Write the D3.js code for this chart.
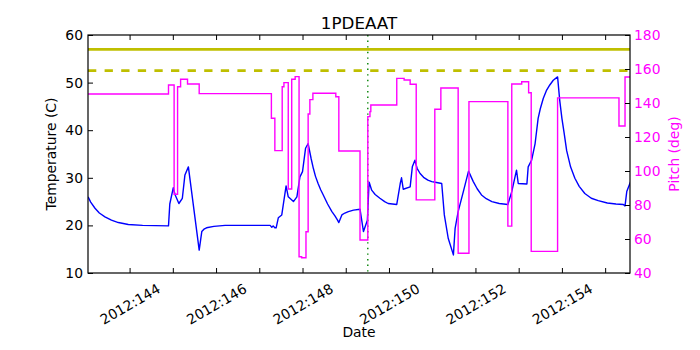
<!DOCTYPE html>
<html>
<head>
<meta charset="utf-8">
<script src="https://cdn.jsdelivr.net/npm/d3@7"></script>
<style>
  html, body { margin: 0; padding: 0; background: #ffffff; }
  svg { display: block; font-family: "DejaVu Sans", sans-serif; }
</style>
</head>
<body>
<div id="chart"></div>
<script>
// ---- data ----
const chartTitle = "1PDEAAT";
const xLabel = "Date";
const yLeftLabel = "Temperature (C)";
const yRightLabel = "Pitch (deg)";

// temperature (C) vs day-of-year 2012
const tempDays = [
  143.04,143.10,143.20,143.30,143.43,143.58,143.74,143.97,144.30,144.90,
  144.93,145.01,145.05,145.14,145.22,145.28,145.36,145.61,145.67,145.72,145.78,145.95,146.21,
  147.25,147.29,147.32,147.36,147.39,147.44,147.52,147.62,147.67,147.79,147.87,147.94,148.00,148.07,
  148.13,148.20,148.25,148.30,148.36,148.42,148.48,148.58,148.68,148.75,148.81,148.84,148.91,148.98,149.06,149.18,149.33,
  149.41,149.50,149.54,149.60,149.68,149.79,149.90,149.98,150.08,150.18,
  150.26,150.29,150.33,150.49,150.54,150.60,150.65,150.72,150.80,150.90,150.99,151.10,151.22,
  151.28,151.37,151.49,151.53,151.60,151.72,151.84,151.90,151.95,152.04,152.14,152.25,152.38,152.55,152.75,
  152.84,152.95,152.99,153.19,153.22,153.30,153.38,153.45,153.50,153.57,153.64,153.72,153.80,153.90,
  153.95,154.00,154.05,154.11,154.20,154.30,154.40,154.53,154.68,154.84,155.05,155.25,155.42,155.46,155.50,155.62];
const tempValues = [
  26.0,24.9,23.6,22.6,21.8,21.1,20.6,20.2,20.0,19.9,
  24.5,27.9,26.5,24.6,25.7,30.6,32.3,14.8,18.7,19.2,19.5,19.8,20.0,
  20.0,19.6,19.9,19.5,19.5,21.6,22.2,28.3,26.0,25.0,26.0,30.2,31.3,36.2,
  37.2,34.0,32.0,30.3,28.8,27.5,26.4,24.5,22.9,22.0,21.1,20.6,22.2,22.6,22.9,23.2,23.4,
  18.7,21.1,29.1,27.4,26.5,25.7,25.0,24.6,24.5,24.4,
  28.8,30.0,27.6,28.1,32.3,33.7,32.0,30.9,30.1,29.5,29.2,29.0,28.8,
  22.2,17.3,13.8,19.4,22.9,27.1,31.4,30.2,29.2,27.7,26.4,25.6,25.0,24.6,24.4,
  27.1,31.6,28.8,28.7,32.3,33.7,37.2,42.5,44.5,46.7,48.3,49.5,50.5,51.2,
  46.2,42.5,39.5,35.7,32.3,29.9,28.2,26.7,25.7,25.2,24.7,24.5,24.4,24.1,27.1,29.9];

// pitch (deg), step changes at these days
const pitchDays = [143.04,144.90,145.03,145.11,145.18,145.34,145.61,147.28,147.36,147.53,147.57,147.67,147.75,147.83,147.92,147.98,148.08,148.13,148.17,148.24,148.77,148.84,149.33,149.51,149.56,149.58,150.18,150.35,150.49,150.63,151.06,151.20,151.60,151.85,152.75,152.84,153.07,153.23,153.29,153.90,155.32,155.46,155.62];
const pitchValues = [145.3,150.6,86.3,149.6,154.0,151.2,145.5,131.0,112.0,149.6,152.0,89.4,154.0,155.5,49.6,49.0,64.3,133.5,142.0,145.7,143.7,111.8,59.4,132.0,134.9,138.8,154.5,153.5,151.0,83.0,136.3,148.8,51.6,140.8,67.6,151.2,152.5,146.0,52.7,143.0,126.5,155.3,155.3];

const limitSolid = 57.0;   // temperature limit (solid)
const limitDashed = 52.5;  // temperature limit (dashed)
const markerDay = 149.51;  // vertical dotted marker

const xDomain = [143.038, 155.575];
const xTickDays = [144,145,146,147,148,149,150,151,152,153,154,155];
const xTickLabels = {144:"2012:144",146:"2012:146",148:"2012:148",150:"2012:150",152:"2012:152",154:"2012:154"};
const yLeftDomain = [10, 60];
const yLeftTicks = [10,20,30,40,50,60];
const yRightDomain = [40, 180];
const yRightTicks = [40,60,80,100,120,140,160,180];

// ---- layout ----
const W = 700, H = 350;
const m = {left: 88, right: 70, top: 35, bottom: 77};
const iw = W - m.left - m.right, ih = H - m.top - m.bottom;

const svg = d3.select("#chart").append("svg").attr("width", W).attr("height", H);
svg.append("rect").attr("width", W).attr("height", H).attr("fill", "#fff");

const g = svg.append("g").attr("transform", `translate(${m.left},${m.top})`);

const x = d3.scaleLinear().domain(xDomain).range([0, iw]);
const yL = d3.scaleLinear().domain(yLeftDomain).range([ih, 0]);
const yR = d3.scaleLinear().domain(yRightDomain).range([ih, 0]);

g.append("clipPath").attr("id", "clip").append("rect").attr("width", iw).attr("height", ih);
const plot = g.append("g").attr("clip-path", "url(#clip)");

const yellow = "#bfbf00";
// limit lines
plot.append("line").attr("x1", 0).attr("x2", iw).attr("y1", yL(limitSolid)).attr("y2", yL(limitSolid))
  .attr("stroke", yellow).attr("stroke-width", 2.8);
plot.append("line").attr("x1", 0).attr("x2", iw).attr("y1", yL(limitDashed)).attr("y2", yL(limitDashed))
  .attr("stroke", yellow).attr("stroke-width", 2.8).attr("stroke-dasharray", "8.3,8.3");

// temperature line
const tempData = tempDays.map((d, i) => [d, tempValues[i]]);
plot.append("path").datum(tempData)
  .attr("fill", "none").attr("stroke", "#0000ff").attr("stroke-width", 1.4)
  .attr("stroke-linejoin", "round")
  .attr("d", d3.line().x(d => x(d[0])).y(d => yL(d[1])));

// marker
plot.append("line").attr("x1", x(markerDay)).attr("x2", x(markerDay)).attr("y1", 0).attr("y2", ih)
  .attr("stroke", "#008000").attr("stroke-width", 1.4).attr("stroke-dasharray", "1.4,4.2");

// pitch line
const pitchData = pitchDays.map((d, i) => [d, pitchValues[i]]);
plot.append("path").datum(pitchData)
  .attr("fill", "none").attr("stroke", "#ff00ff").attr("stroke-width", 1.4)
  .attr("d", d3.line().x(d => x(d[0])).y(d => yR(d[1])).curve(d3.curveStepAfter));

const fs = 13.9;
// x axis bottom
const xAxis = g.append("g").attr("transform", `translate(0,${ih})`)
  .call(d3.axisBottom(x).tickValues(xTickDays).tickSizeInner(-5).tickSizeOuter(0)
    .tickFormat(d => xTickLabels[d] || ""));
xAxis.select(".domain").remove();
xAxis.selectAll("line").attr("stroke", "#000");
xAxis.selectAll("text").attr("y", null).attr("dy", null)
  .attr("font-size", fs).attr("fill", "#000").attr("font-family", "DejaVu Sans")
  .attr("text-anchor", "middle").attr("dominant-baseline", "central")
  .attr("transform", "translate(0,31) rotate(-30)");
// x axis top ticks
const xTop = g.append("g")
  .call(d3.axisTop(x).tickValues(xTickDays).tickSizeInner(-5).tickSizeOuter(0).tickFormat(""));
xTop.select(".domain").remove();
xTop.selectAll("line").attr("stroke", "#000");

// left axis
const yAxL = g.append("g")
  .call(d3.axisLeft(yL).tickValues(yLeftTicks).tickSizeInner(-5).tickSizeOuter(0).tickFormat(d3.format("d")));
yAxL.select(".domain").remove();
yAxL.selectAll("line").attr("stroke", "#000");
yAxL.selectAll("text").attr("font-size", fs).attr("fill", "#000").attr("font-family", "DejaVu Sans").attr("x", -5);

// right axis
const magenta = "#ff00ff";
const yAxR = g.append("g").attr("transform", `translate(${iw},0)`)
  .call(d3.axisRight(yR).tickValues(yRightTicks).tickSizeInner(-5).tickSizeOuter(0).tickFormat(d3.format("d")));
yAxR.select(".domain").remove();
yAxR.selectAll("line").attr("stroke", "#000");
yAxR.selectAll("text").attr("font-size", fs).attr("fill", magenta).attr("font-family", "DejaVu Sans").attr("x", 4);

// frame
g.append("rect").attr("width", iw).attr("height", ih).attr("fill", "none").attr("stroke", "#000").attr("stroke-width", 1.2);

// labels
svg.append("text").attr("x", m.left + iw / 2).attr("y", 29).attr("text-anchor", "middle")
  .attr("font-size", 16.7).attr("fill", "#000").text(chartTitle);
svg.append("text").attr("x", m.left + iw / 2).attr("y", 337).attr("text-anchor", "middle")
  .attr("font-size", fs).attr("fill", "#000").text(xLabel);
svg.append("text").attr("transform", `translate(56,${m.top + ih / 2}) rotate(-90)`).attr("text-anchor", "middle")
  .attr("font-size", fs).attr("fill", "#000").text(yLeftLabel);
svg.append("text").attr("transform", `translate(679,${m.top + ih / 2}) rotate(-90)`).attr("text-anchor", "middle")
  .attr("font-size", fs).attr("fill", magenta).text(yRightLabel);
</script>
</body>
</html>
